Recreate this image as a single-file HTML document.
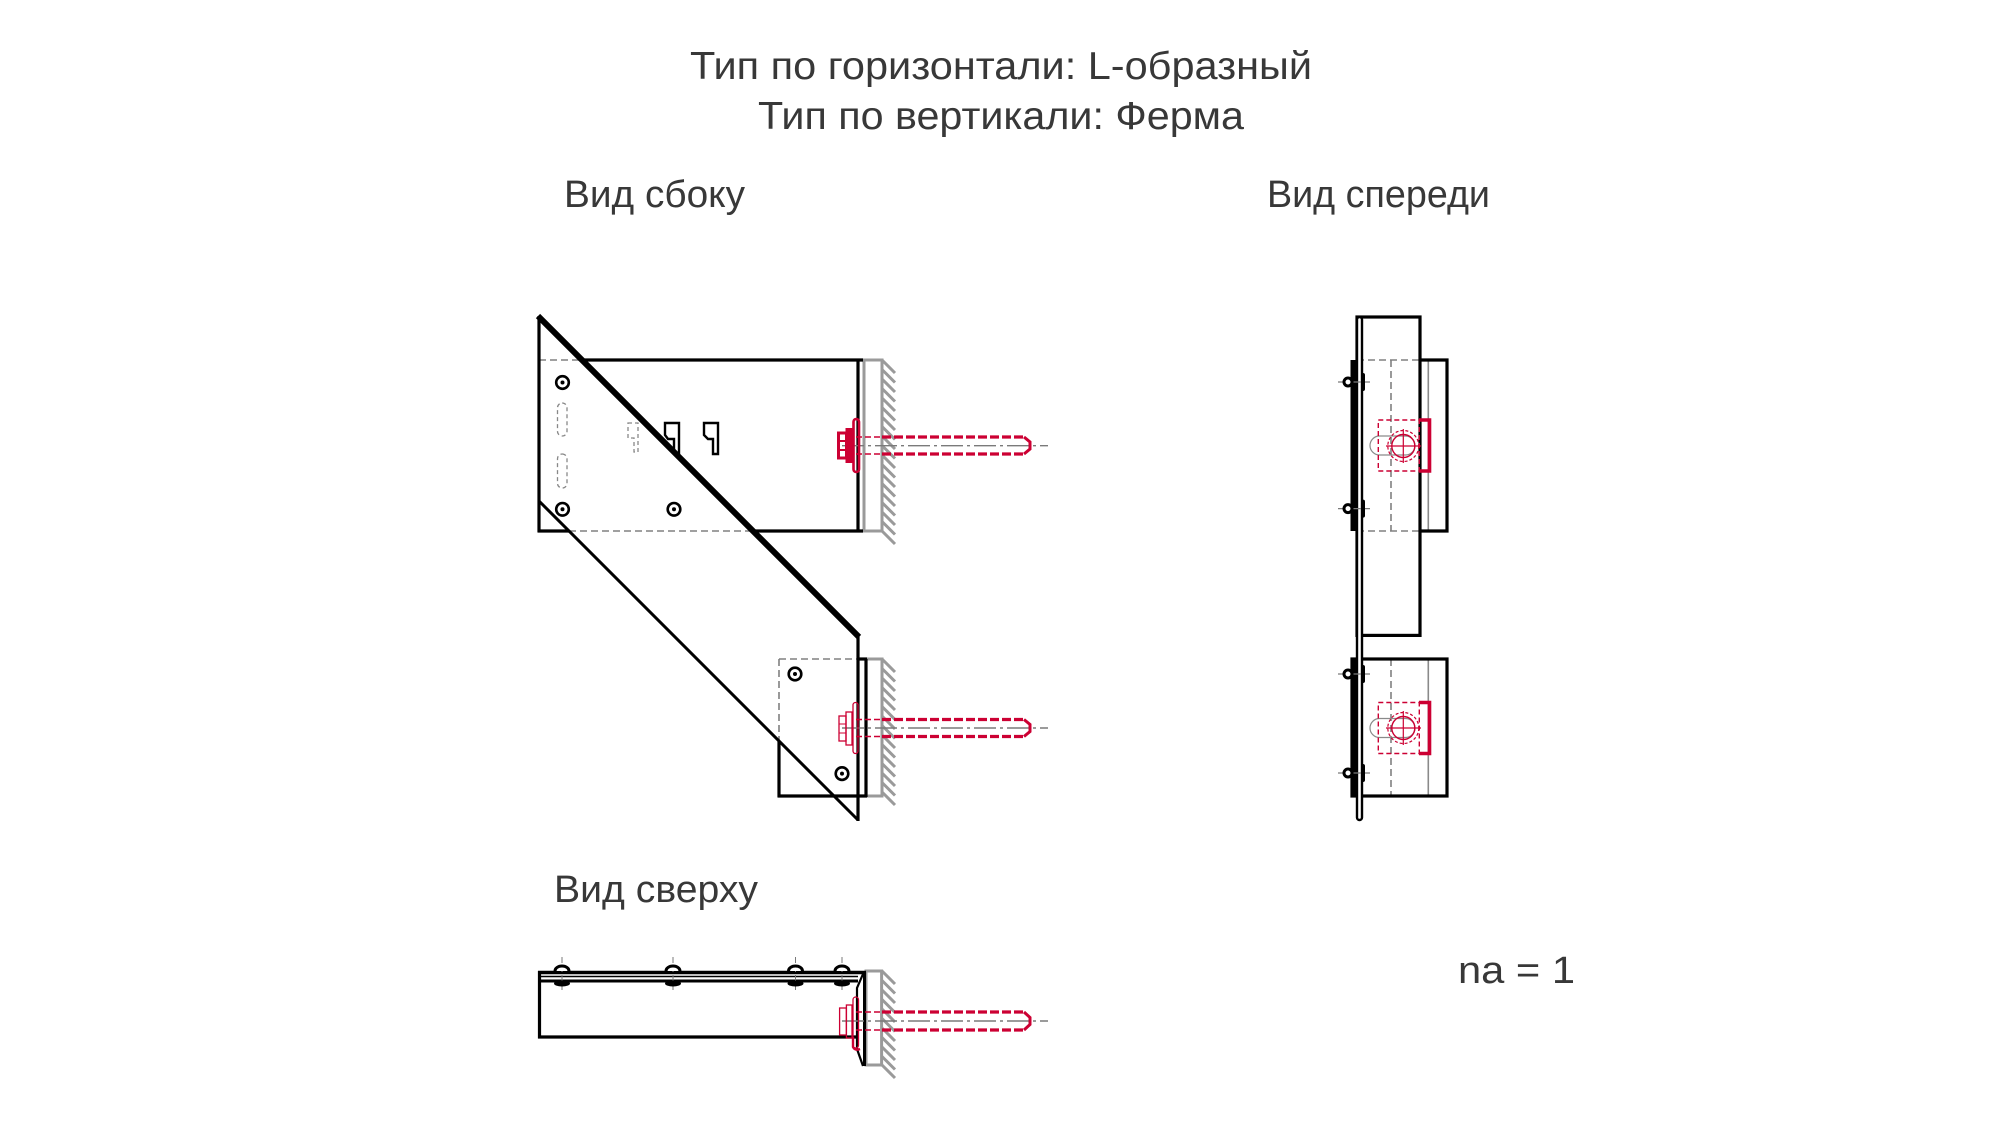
<!DOCTYPE html>
<html><head><meta charset="utf-8"><style>
html,body{margin:0;padding:0;background:#fff;}
svg{display:block;}
text{font-family:"Liberation Sans","DejaVu Sans",sans-serif;fill:#383838;}
</style></head><body>
<svg width="2000" height="1125" viewBox="0 0 2000 1125" xmlns="http://www.w3.org/2000/svg">
<rect width="2000" height="1125" fill="#fff"/>

<!-- Titles -->
<text x="690" y="79" font-size="39" textLength="622" lengthAdjust="spacingAndGlyphs">Тип по горизонтали: L-образный</text>
<text x="758" y="129" font-size="39" textLength="486" lengthAdjust="spacingAndGlyphs">Тип по вертикали: Ферма</text>
<text x="564" y="207" font-size="38" textLength="181" lengthAdjust="spacingAndGlyphs">Вид сбоку</text>
<text x="1267" y="207" font-size="38" textLength="223" lengthAdjust="spacingAndGlyphs">Вид спереди</text>
<text x="554" y="902" font-size="38" textLength="204" lengthAdjust="spacingAndGlyphs">Вид сверху</text>
<text x="1458" y="983" font-size="38" textLength="117" lengthAdjust="spacingAndGlyphs">na = 1</text>

<!-- ============ SIDE VIEW ============ -->
<g fill="none" stroke-linecap="butt">
  <!-- walls -->
  <g stroke="#9a9a9a" stroke-width="3">
    <rect x="864" y="360" width="18" height="171"/>
    <rect x="866" y="659" width="16" height="137"/>
    <path d="M882 360l13 13M882 369.5l13 13M882 379l13 13M882 388.5l13 13M882 398l13 13M882 407.5l13 13M882 417l13 13M882 426.5l13 13M882 436l13 13M882 445.5l13 13M882 455l13 13M882 464.5l13 13M882 474l13 13M882 483.5l13 13M882 493l13 13M882 502.5l13 13M882 512l13 13M882 521.5l13 13M882 531l13 13"/>
    <path d="M882 659l13 13M882 668.5l13 13M882 678l13 13M882 687.5l13 13M882 697l13 13M882 706.5l13 13M882 716l13 13M882 725.5l13 13M882 735l13 13M882 744.5l13 13M882 754l13 13M882 763.5l13 13M882 773l13 13M882 782.5l13 13M882 792l13 13"/>
  </g>

  <!-- hidden (dashed) lines -->
  <g stroke="#808080" stroke-width="1.6" stroke-dasharray="7 4">
    <line x1="539" y1="360" x2="581" y2="360"/>
    <line x1="569" y1="531" x2="752" y2="531"/>
    <line x1="779" y1="659" x2="858" y2="659"/>
    <line x1="779" y1="659" x2="779" y2="741"/>
  </g>

  <!-- upper bracket rect -->
  <g stroke="#000" stroke-width="3.2">
    <line x1="581" y1="360" x2="863" y2="360"/>
    <line x1="537.5" y1="531" x2="569" y2="531"/>
    <line x1="752" y1="531" x2="863" y2="531"/>
    <line x1="858" y1="360" x2="858" y2="531"/>
    <!-- lower bracket rect -->
    <line x1="858" y1="659" x2="867" y2="659"/>
    <line x1="866" y1="659" x2="866" y2="797"/>
    <line x1="777.5" y1="796" x2="867" y2="796"/>
    <line x1="779" y1="741" x2="779" y2="797"/>
  </g>

  <!-- truss plate -->
  <g stroke="#000">
    <line x1="539" y1="316" x2="539" y2="532" stroke-width="3.2"/>
    <line x1="539" y1="501" x2="858" y2="820" stroke-width="3"/>
    <line x1="858" y1="636" x2="858" y2="821" stroke-width="3.2"/>
    <line x1="538" y1="316" x2="859" y2="637" stroke-width="6"/>
  </g>

  <!-- holes -->
  <g stroke="#000" stroke-width="2.6" fill="#fff">
    <circle cx="562.5" cy="382.5" r="6.3"/>
    <circle cx="562.5" cy="509.3" r="6.3"/>
    <circle cx="674" cy="509.3" r="6.3"/>
    <circle cx="795" cy="674" r="6.3"/>
    <circle cx="842" cy="773.6" r="6.3"/>
  </g>
  <g fill="#000">
    <circle cx="562.5" cy="382.5" r="2"/>
    <circle cx="562.5" cy="509.3" r="2"/>
    <circle cx="674" cy="509.3" r="2"/>
    <circle cx="795" cy="674" r="2"/>
    <circle cx="842" cy="773.6" r="2"/>
  </g>

  <!-- slots -->
  <g stroke="#888" stroke-width="1.3" stroke-dasharray="4 3">
    <rect x="557.5" y="403" width="9.5" height="33" rx="4.7"/>
    <rect x="557.5" y="454" width="9.5" height="34" rx="4.7"/>
    <path d="M628 423h10v29h-4v-14h-6z"/>
  </g>

  <!-- profile marks -->
  <g stroke="#000" stroke-width="2.4">
    <path d="M665 423h14v30h-5v-14h-6l-3-4z"/>
    <path d="M704 423h14v31h-5v-15h-5l-4-4z"/>
  </g>

  <!-- centerlines -->
  <g stroke="#7a7a7a" stroke-width="1.4" stroke-dasharray="22 4 3 4">
    <line x1="842" y1="445.7" x2="1048" y2="445.7"/>
    <line x1="842" y1="728" x2="1048" y2="728"/>
  </g>

  <!-- red bolt 1 -->
  <g stroke="#cc0033">
    <rect x="838.5" y="433" width="8" height="25" stroke-width="3"/>
    <line x1="838" y1="441" x2="846" y2="441" stroke-width="2"/>
    <line x1="838" y1="450" x2="846" y2="450" stroke-width="2"/>
    <rect x="846" y="428.5" width="8" height="34" fill="#cc0033" stroke-width="1"/>
    <rect x="853.5" y="419" width="5.5" height="53" rx="2.8" stroke-width="2.6"/>
    <g stroke-width="1.6" stroke-dasharray="6 3">
      <line x1="856" y1="437" x2="882" y2="437"/>
      <line x1="856" y1="454" x2="882" y2="454"/>
    </g>
    <g stroke-width="3.2" stroke-dasharray="9 3">
      <line x1="882" y1="437" x2="1025" y2="437"/>
      <line x1="882" y1="454" x2="1025" y2="454"/>
    </g>
    <path d="M1024 437 L1030 442 L1030 449 L1024 454" stroke-width="3"/>
  </g>

  <!-- red bolt 2 -->
  <g stroke="#cc0033">
    <rect x="839" y="716" width="7" height="25" stroke-width="1.3"/>
    <line x1="839" y1="724" x2="846" y2="724" stroke-width="1"/>
    <line x1="839" y1="733" x2="846" y2="733" stroke-width="1"/>
    <rect x="846" y="712" width="6" height="33" stroke-width="1.3"/>
    <rect x="853" y="702.5" width="5" height="51" rx="2.5" stroke-width="1.3"/>
    <g stroke-width="1.4" stroke-dasharray="6 3">
      <line x1="856" y1="719.5" x2="882" y2="719.5"/>
      <line x1="856" y1="736.5" x2="882" y2="736.5"/>
    </g>
    <g stroke-width="3.2" stroke-dasharray="9 3">
      <line x1="882" y1="719.5" x2="1025" y2="719.5"/>
      <line x1="882" y1="736.5" x2="1025" y2="736.5"/>
    </g>
    <path d="M1024 719.5 L1030 724.5 L1030 731.5 L1024 736.5" stroke-width="3"/>
  </g>
</g>

<!-- ============ FRONT VIEW ============ -->
<g fill="none">
  <!-- hidden lines -->
  <g stroke="#808080" stroke-width="1.6" stroke-dasharray="7 4">
    <line x1="1357" y1="360" x2="1420" y2="360"/>
    <line x1="1357" y1="531" x2="1420" y2="531"/>
    <line x1="1391" y1="360" x2="1391" y2="531"/>
    <line x1="1391" y1="659" x2="1391" y2="796"/>
  </g>
  <g stroke="#8a8a8a" stroke-width="1.6">
    <line x1="1428.3" y1="360" x2="1428.3" y2="531"/>
    <line x1="1428.3" y1="659" x2="1428.3" y2="796"/>
  </g>
  <g stroke="#000" stroke-width="3.2">
    <!-- tall truss flange -->
    <rect x="1357" y="317" width="63" height="318.4"/>
    <!-- upper box right part -->
    <path d="M1420 360 H1447 V531 H1420"/>
    <!-- lower box -->
    <rect x="1352" y="659" width="95" height="137"/>
  </g>
  <rect x="1350.5" y="360" width="6.5" height="171" fill="#000"/>
  <rect x="1350.5" y="659" width="6.5" height="137" fill="#000"/>
  <!-- plate -->
  <rect x="1357" y="317" width="5" height="503" rx="2.5" stroke="#000" stroke-width="2.4" fill="#fff"/>

  <!-- bolts on left -->
  <g>
    <g stroke="#7a7a7a" stroke-width="1.2" stroke-dasharray="10 3">
      <line x1="1338" y1="382" x2="1370" y2="382"/>
      <line x1="1338" y1="508.6" x2="1370" y2="508.6"/>
      <line x1="1338" y1="674" x2="1370" y2="674"/>
      <line x1="1338" y1="773" x2="1370" y2="773"/>
    </g>
    <g stroke="#000" stroke-width="3" fill="#fff">
      <circle cx="1348" cy="382" r="4"/>
      <circle cx="1348" cy="508.6" r="4"/>
      <circle cx="1348" cy="674" r="4"/>
      <circle cx="1348" cy="773" r="4"/>
    </g>
    <g fill="#000">
      <rect x="1361" y="373" width="4" height="18" rx="2"/>
      <rect x="1361" y="499.6" width="4" height="18" rx="2"/>
      <rect x="1361" y="665" width="4" height="18" rx="2"/>
      <rect x="1361" y="764" width="4" height="18" rx="2"/>
    </g>
  </g>

  <!-- red front upper -->
  <g>
    <rect x="1370" y="436" width="45" height="19" rx="9.5" stroke="#8a8a8a" stroke-width="1.2"/>
    <rect x="1378.3" y="420" width="41" height="51" stroke="#cc0033" stroke-width="1.4" stroke-dasharray="5 3"/>
    <path d="M1419 420 H1429.5 V471 H1419" stroke="#cc0033" stroke-width="3.6"/>
    <circle cx="1403.3" cy="446" r="15.5" stroke="#cc0033" stroke-width="1.2" stroke-dasharray="3 2"/>
    <circle cx="1403.3" cy="446" r="11.5" stroke="#cc0033" stroke-width="1.4"/>
    <path d="M1386 446 H1421 M1403.3 429 V463" stroke="#cc0033" stroke-width="1.2"/>
  </g>
  <!-- red front lower -->
  <g>
    <rect x="1370" y="718.5" width="45" height="19" rx="9.5" stroke="#8a8a8a" stroke-width="1.2"/>
    <rect x="1378.3" y="702.5" width="41" height="51" stroke="#cc0033" stroke-width="1.4" stroke-dasharray="5 3"/>
    <path d="M1419 702.5 H1429.5 V753.5 H1419" stroke="#cc0033" stroke-width="3.6"/>
    <circle cx="1403.3" cy="728" r="15.5" stroke="#cc0033" stroke-width="1.2" stroke-dasharray="3 2"/>
    <circle cx="1403.3" cy="728" r="11.5" stroke="#cc0033" stroke-width="1.4"/>
    <path d="M1386 728 H1421 M1403.3 711 V745" stroke="#cc0033" stroke-width="1.2"/>
  </g>
</g>

<!-- ============ TOP VIEW ============ -->
<g fill="none">
  <g stroke="#9a9a9a" stroke-width="3">
    <rect x="866" y="971" width="15.6" height="94"/>
    <path d="M882 971l13 13M882 980.5l13 13M882 990l13 13M882 999.5l13 13M882 1009l13 13M882 1018.5l13 13M882 1028l13 13M882 1037.5l13 13M882 1047l13 13M882 1056.5l13 13M882 1065l13 13"/>
  </g>
  <g stroke="#000">
    <line x1="538" y1="972.5" x2="866" y2="972.5" stroke-width="3.6"/>
    <line x1="539" y1="976.5" x2="858" y2="976.5" stroke-width="1.5"/>
    <line x1="539" y1="981" x2="858" y2="981" stroke-width="3"/>
    <line x1="539.5" y1="971" x2="539.5" y2="1038.5" stroke-width="3.2"/>
    <line x1="538" y1="1037" x2="857" y2="1037" stroke-width="3.2"/>
    <line x1="864.5" y1="971" x2="864.5" y2="1066" stroke-width="3"/>
    <path d="M863 974 L857 988 L857 1049 L863 1066" stroke-width="2.2"/>
  </g>
  <!-- bolts top -->
  <g stroke="#7a7a7a" stroke-width="1" stroke-dasharray="6 3">
    <line x1="562" y1="957" x2="562" y2="990"/>
    <line x1="673" y1="957" x2="673" y2="990"/>
    <line x1="795.5" y1="957" x2="795.5" y2="990"/>
    <line x1="842" y1="957" x2="842" y2="990"/>
  </g>
  <g stroke="#000" stroke-width="3" fill="#fff">
    <path d="M555 971 a7 5 0 0 1 14 0"/>
    <path d="M666 971 a7 5 0 0 1 14 0"/>
    <path d="M788.5 971 a7 5 0 0 1 14 0"/>
    <path d="M835 971 a7 5 0 0 1 14 0"/>
  </g>
  <g fill="#000">
    <ellipse cx="562" cy="983.5" rx="8" ry="3"/>
    <ellipse cx="673" cy="983.5" rx="8" ry="3"/>
    <ellipse cx="795.5" cy="983.5" rx="8" ry="3"/>
    <ellipse cx="842" cy="983.5" rx="8" ry="3"/>
  </g>
  <line x1="842" y1="1021" x2="1048" y2="1021" stroke="#7a7a7a" stroke-width="1.4" stroke-dasharray="22 4 3 4"/>
  <g stroke="#cc0033">
    <rect x="839.6" y="1008" width="6.8" height="27" stroke-width="1.3"/>
    <rect x="846.4" y="1005" width="5.6" height="33" stroke-width="1.3"/>
    <rect x="853" y="997" width="5.5" height="51" rx="2.7" stroke-width="1.3"/>
    <path d="M853 1037 L853 1047 Q855 1051 860 1049" stroke-width="2.4"/>
    <g stroke-width="1.4" stroke-dasharray="6 3">
      <line x1="856" y1="1012" x2="882" y2="1012"/>
      <line x1="856" y1="1030" x2="882" y2="1030"/>
    </g>
    <g stroke-width="3.2" stroke-dasharray="9 3">
      <line x1="882" y1="1012" x2="1025" y2="1012"/>
      <line x1="882" y1="1030" x2="1025" y2="1030"/>
    </g>
    <path d="M1024 1012 L1030 1017.5 L1030 1024.5 L1024 1030" stroke-width="3"/>
  </g>
</g>
</svg>
</body></html>
